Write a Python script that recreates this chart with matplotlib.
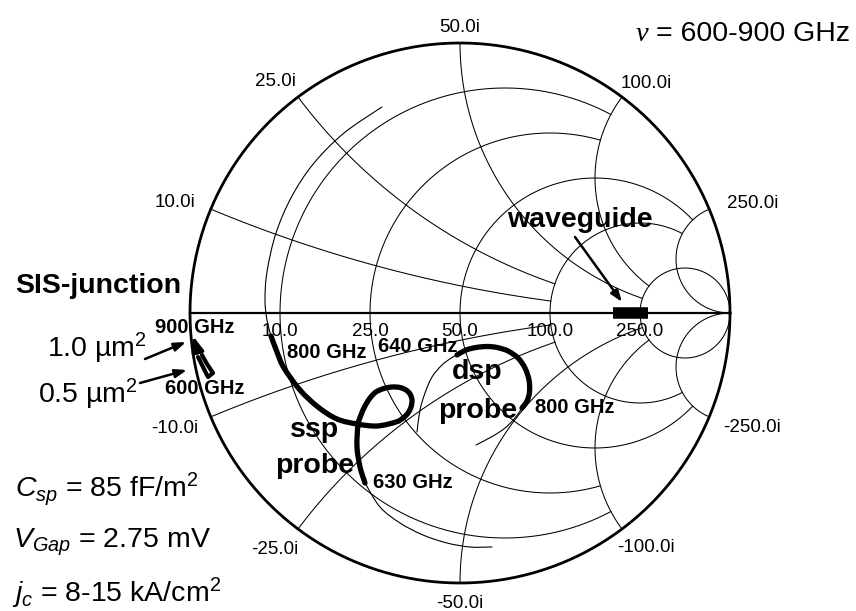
import numpy as np
import matplotlib
matplotlib.use("Agg")
import matplotlib.pyplot as plt
from matplotlib.path import Path
from matplotlib.patches import PathPatch

plt.rcParams['font.family'] = ['Liberation Sans', 'DejaVu Sans']
plt.rcParams['mathtext.fontset'] = 'custom'
plt.rcParams['mathtext.rm'] = 'Liberation Sans'
plt.rcParams['mathtext.it'] = 'Liberation Sans:italic'
plt.rcParams['mathtext.bf'] = 'Liberation Sans:bold'

Z0 = 50.0  # reference impedance (ohm)

# Smith-chart grid: circle values (ohm) and the normalised value where each
# resistance circle / reactance arc stops
grid_ohms = [10.0, 25.0, 50.0, 100.0, 250.0]
grid_stop = [2.0, 2.0, 5.0, 5.0, np.inf]

# single-sided probe (ssp), impedances in ohm
ssp_lo_R = [7.69, 7.37, 7.46, 7.75, 8.24, 9.01, 10.79]          # 600-630 GHz
ssp_lo_X = [-56.71, -51.63, -46.70, -41.76, -37.06, -32.71, -28.31]
ssp_R = [10.79, 12.20, 14.11, 16.55, 17.97, 19.46, 21.04, 22.65, 24.49,
         26.23, 27.85, 28.88, 29.29, 29.0, 27.88, 26.47, 24.85, 23.06,
         19.38, 16.50, 14.04, 12.29, 10.84, 9.63, 9.16, 8.68]        # 630-800 GHz
ssp_X = [-28.31, -25.89, -23.03, -20.03, -18.79, -17.70, -16.77, -16.21, -16.25,
         -16.69, -17.58, -18.75, -20.07, -21.6, -22.95, -23.75, -24.04, -23.84,
         -22.21, -19.79, -17.27, -14.21, -10.90, -7.35, -5.09, -2.94]
ssp_hi_R = [8.68, 8.30, 8.02, 7.86, 7.68, 7.54, 7.44, 7.46, 7.45]   # 800-900 GHz
ssp_hi_X = [-2.94, -0.88, 1.62, 5.12, 10.16, 15.37, 20.7, 26.8, 34.0]

# double-sided probe (dsp), impedances in ohm
dsp_lo_R = [25.37, 29.33, 32.83, 36.61, 40.79, 44.69, 46.62]        # 600-640 GHz
dsp_lo_X = [-28.65, -24.82, -21.73, -18.60, -16.39, -15.16, -14.86]
dsp_R = [46.62, 50.30, 54.38, 59.04, 63.39, 68.17, 71.87, 72.86, 70.90,
         66.56, 61.96, 57.40]                                        # 640-800 GHz
dsp_X = [-14.86, -14.06, -14.18, -15.03, -16.79, -20.23, -25.87, -32.96,
         -40.30, -45.93, -48.53, -49.05]
dsp_hi_R = [57.40, 51.40, 45.15, 39.75, 33.70]                       # 800-900 GHz
dsp_hi_X = [-49.05, -49.52, -48.64, -46.58, -43.50]

# SIS junction impedance (ohm), 600 -> 900 GHz
sis10_R = [0.55, 0.37, 0.19]           # 1.0 um^2
sis10_X = [-3.90, -3.11, -2.15]
sis05_R = [0.41, 0.70, 0.96, 1.53, 1.14, 0.81]   # 0.5 um^2
sis05_X = [-4.17, -5.19, -6.25, -5.98, -4.99, -4.04]

# waveguide embedding impedance range (ohm, real)
waveguide_R = [181.0, 279.0]

# ---------------------------------------------------------------------------
W, H = 856, 611
CX, CY, RAD = 460.0, 313.0, 270.0   # chart centre and radius in pixels


def at(x, y):
    """pixel position (from top-left) -> reflection-coefficient plane"""
    return ((x - CX) / RAD, (CY - y) / RAD)


def gamma(z):
    return (z - 1) / (z + 1)


def gam_ohm(R, X):
    return gamma((np.asarray(R) + 1j * np.asarray(X)) / Z0)


def smooth_curve(ax, g, lw, capstyle='round'):
    """draw a smooth (Catmull-Rom / cubic Bezier) line through every point"""
    p = np.column_stack([g.real, g.imag])
    ext = np.vstack([p[0], p, p[-1]])
    verts = [p[0]]
    codes = [Path.MOVETO]
    for i in range(len(p) - 1):
        p0, p1, p2, p3 = ext[i], ext[i + 1], ext[i + 2], ext[i + 3]
        verts += [p1 + (p2 - p0) / 6.0, p2 - (p3 - p1) / 6.0, p2]
        codes += [Path.CURVE4] * 3
    patch = PathPatch(Path(verts, codes), facecolor='none', edgecolor='k',
                      lw=lw, capstyle=capstyle, joinstyle='round')
    ax.add_patch(patch)


fig = plt.figure(figsize=(W / 100, H / 100), dpi=100)
ax = fig.add_axes([0, 0, 1, 1])
x0, y1 = at(0, 0)
x1, y0 = at(W, H)
ax.set_xlim(x0, x1)
ax.set_ylim(y0, y1)
ax.axis('off')

GRID_LW = 0.75
# grid circles and arcs
for val, stop in zip(grid_ohms, grid_stop):
    r = val / Z0
    if np.isinf(stop):
        th = np.linspace(0, 2 * np.pi, 721)
        g = r / (1 + r) + np.exp(1j * th) / (1 + r)
    else:
        xx = np.linspace(-stop, stop, 2001)
        g = gamma(r + 1j * xx)
    ax.plot(g.real, g.imag, color='k', lw=GRID_LW)

    if np.isinf(stop):
        rr = np.concatenate([np.linspace(0, 20, 2000), np.geomspace(20, 1e7, 500)])
    else:
        rr = np.linspace(0, stop, 2001)
    for s in (1, -1):
        g = gamma(rr + 1j * s * r)
        ax.plot(g.real, g.imag, color='k', lw=GRID_LW)

# outer circle and real axis
th = np.linspace(0, 2 * np.pi, 1441)
ax.plot(np.cos(th), np.sin(th), color='k', lw=2.0)
ends = gamma(np.array([0.0, 1e12]))
ax.plot(ends.real, [0, 0], color='k', lw=1.6)

# grid labels
TICK_FS = 13.5
for val in grid_ohms:
    g = gamma(complex(val / Z0))
    ax.annotate(f"{val:.1f}", xy=(g.real, g.imag), xytext=(0, -23),
                textcoords='offset pixels', ha='center', va='baseline',
                fontsize=TICK_FS)

label_offset = {10.0: (-36, 9), 25.0: (-23, 18), 50.0: (0, 18),
                100.0: (24, 16), 250.0: (43, 8.5)}
for val in grid_ohms:
    dx, dy = label_offset[val]
    for s in (1, -1):
        g = gamma(1j * s * val / Z0)
        ax.annotate(f"{s * val:.1f}i", xy=(g.real, g.imag),
                    xytext=(dx, s * dy - 7), textcoords='offset pixels',
                    ha='center', va='baseline', fontsize=TICK_FS)

# probe impedance curves
THICK = 3.8
THIN = 0.8
for R, X, lw in [(ssp_lo_R, ssp_lo_X, THIN), (ssp_R, ssp_X, THICK),
                 (ssp_hi_R, ssp_hi_X, THIN), (dsp_lo_R, dsp_lo_X, THIN),
                 (dsp_R, dsp_X, THICK), (dsp_hi_R, dsp_hi_X, THIN)]:
    smooth_curve(ax, gam_ohm(R, X), lw)

# SIS junction curves
g = gam_ohm(sis10_R, sis10_X)
ax.plot(g.real[:-1], g.imag[:-1], color='k', lw=3.0, solid_capstyle='butt')
ax.annotate('', xy=(g.real[-1], g.imag[-1]), xytext=(g.real[-2], g.imag[-2]),
            arrowprops=dict(arrowstyle='-|>,head_length=0.9,head_width=0.35',
                            color='k', lw=2.5, shrinkA=0, shrinkB=0))
g = gam_ohm(sis05_R, sis05_X)
ax.plot(g.real, g.imag, color='k', lw=3.0, solid_capstyle='round',
        solid_joinstyle='round')

# waveguide
g = gam_ohm(waveguide_R, [0.0, 0.0])
ax.plot(g.real, g.imag, color='k', lw=8.3, solid_capstyle='butt')

arrow_kw = dict(arrowstyle='-|>,head_length=0.7,head_width=0.25', color='k',
                lw=1.8, shrinkA=0, shrinkB=0)
ax.annotate('', xy=at(622, 302), xytext=at(575, 237), arrowprops=arrow_kw)
ax.annotate('', xy=at(186, 342), xytext=at(145, 359), arrowprops=arrow_kw)
ax.annotate('', xy=at(187, 370), xytext=at(140, 383), arrowprops=arrow_kw)

# text
BIG = 20.5
SMALL_B = 14.5
ax.text(*at(850, 41), '= 600-900 GHz', ha='right', va='baseline', fontsize=BIG)
ax.text(*at(648, 41), 'ν', ha='right', va='baseline', fontsize=BIG,
        family='Liberation Serif', style='italic')
ax.text(*at(15, 293), 'SIS-junction', ha='left', va='baseline', fontsize=BIG,
        fontweight='bold')
ax.text(*at(47, 357), r'1.0 µm$^2$', ha='left', va='baseline', fontsize=BIG)
ax.text(*at(38, 403), r'0.5 µm$^2$', ha='left', va='baseline', fontsize=BIG)
ax.text(*at(15, 497), r'$C_{sp}$ = 85 fF/m$^2$', ha='left', va='baseline', fontsize=BIG)
ax.text(*at(13, 547), r'$V_{Gap}$ = 2.75 mV', ha='left', va='baseline', fontsize=BIG)
ax.text(*at(12, 602), r'$j_c$ = 8-15 kA/cm$^2$', ha='left', va='baseline', fontsize=BIG)

for (x, y, s) in [(315, 437, 'ssp'), (315, 473, 'probe'),
                  (477.5, 379, 'dsp'), (477.5, 418, 'probe'),
                  (579.5, 227, 'waveguide')]:
    ax.text(*at(x, y), s, ha='center', va='baseline', fontsize=BIG,
            fontweight='bold')

for (x, y, s) in [(155, 333, '900 GHz'), (165, 394, '600 GHz'),
                  (287, 358, '800 GHz'), (378, 352, '640 GHz'),
                  (373, 488, '630 GHz'), (535, 413, '800 GHz')]:
    ax.text(*at(x, y), s, ha='left', va='baseline', fontsize=SMALL_B,
            fontweight='bold')

fig.savefig('out.png', dpi=100)
